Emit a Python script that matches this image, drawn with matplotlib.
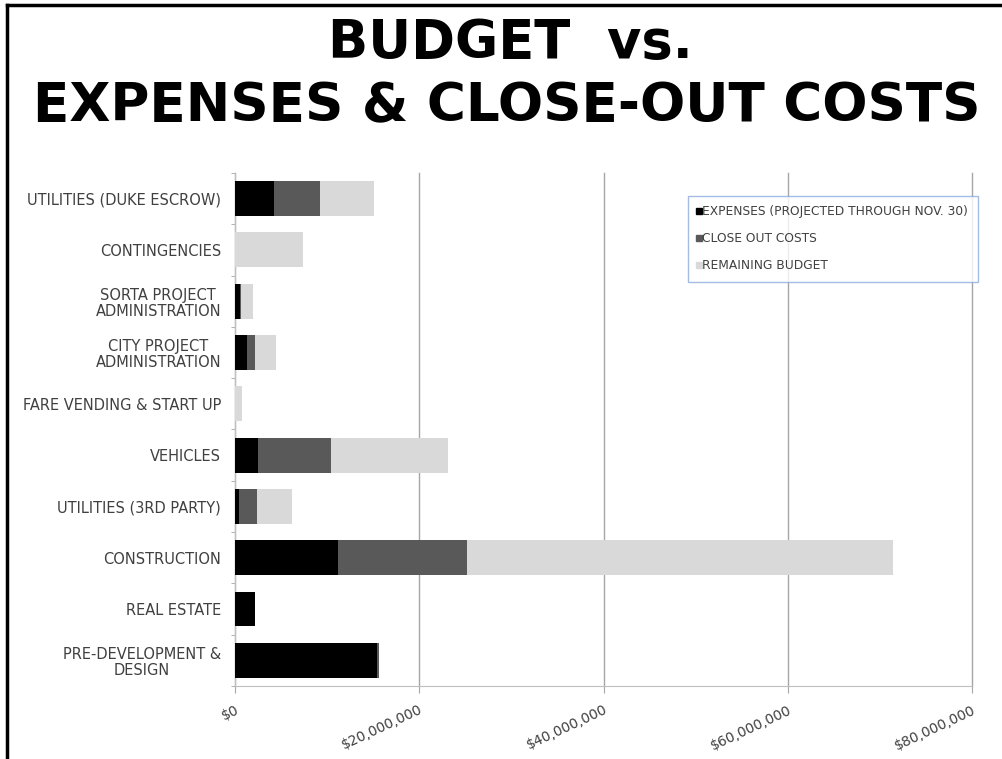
import matplotlib.pyplot as plt
from matplotlib.ticker import FuncFormatter
from matplotlib.lines import Line2D

# voci di spesa (dall'alto verso il basso come nel grafico)
categorie = ["UTILITIES (DUKE ESCROW)", "CONTINGENCIES", "SORTA PROJECT\nADMINISTRATION",
             "CITY PROJECT\nADMINISTRATION", "FARE VENDING & START UP", "VEHICLES",
             "UTILITIES (3RD PARTY)", "CONSTRUCTION", "REAL ESTATE",
             "PRE-DEVELOPMENT &\nDESIGN"]
# valori in dollari
spese = [4.2e6, 0, 0.5e6, 1.3e6, 0, 2.5e6, 0.4e6, 11.2e6, 2.2e6, 15.4e6]
chiusura = [5.0e6, 0, 0.2e6, 0.9e6, 0, 7.9e6, 2.0e6, 14.0e6, 0, 0.2e6]
rimanente = [5.9e6, 7.4e6, 1.3e6, 2.2e6, 0.75e6, 12.7e6, 3.8e6, 46.2e6, 0, 0]
etichette_serie = ["EXPENSES (PROJECTED THROUGH NOV. 30)", "CLOSE OUT COSTS", "REMAINING BUDGET"]
tick_x = [0, 20e6, 40e6, 60e6, 80e6]

colori = ["#000000", "#595959", "#d9d9d9"]
testo = "#404040"
font = "DejaVu Sans"

fig = plt.figure(figsize=(10.03, 7.59), dpi=100)
ax = fig.add_axes([0.2343, 0.0962, 0.7348, 0.6759])

y = list(range(len(categorie)))
sinistra2 = [a for a in spese]
sinistra3 = [a + b for a, b in zip(spese, chiusura)]
ax.barh(y, spese, height=0.68, color=colori[0], zorder=3)
ax.barh(y, chiusura, left=sinistra2, height=0.68, color=colori[1], zorder=3)
ax.barh(y, rimanente, left=sinistra3, height=0.68, color=colori[2], zorder=3)

ax.set_xlim(0, 80e6)
ax.set_ylim(len(categorie) - 0.5, -0.5)
ax.set_xticks(tick_x)
ax.xaxis.set_major_formatter(FuncFormatter(lambda v, p: "${:,.0f}".format(v)))
ax.set_yticks(y)
ax.set_yticklabels(categorie)
ax.set_yticks([i - 0.5 for i in range(len(categorie) + 1)], minor=True)
for lab in ax.get_yticklabels():
    lab.set_multialignment("center")
    lab.set_fontfamily(font)
    lab.set_fontsize(10.5)
    lab.set_color(testo)
    lab.set_linespacing(1.1)
for lab in ax.get_xticklabels():
    lab.set_rotation(25)
    lab.set_ha("right")
    lab.set_va("top")
    lab.set_rotation_mode("anchor")
    lab.set_fontfamily(font)
    lab.set_fontsize(10)
    lab.set_color(testo)
ax.tick_params(axis="y", which="major", length=0, pad=10)
ax.tick_params(axis="y", which="minor", length=3, color="#a6a6a6")
ax.tick_params(axis="x", length=5, color="#a6a6a6", pad=7)

ax.grid(axis="x", color="#a6a6a6", linewidth=1, zorder=0)
for gl in ax.get_xgridlines():
    gl.set_clip_on(False)
for s in ["top", "right"]:
    ax.spines[s].set_visible(False)
ax.spines["left"].set_color("#bfbfbf")
ax.spines["bottom"].set_color("#bfbfbf")

# legenda
handles = [Line2D([], [], marker="s", linestyle="none", markersize=4, color=c) for c in colori]
leg = ax.legend(handles, etichette_serie, loc="upper right", bbox_to_anchor=(1.008, 0.956),
                prop={"family": font, "size": 8.8}, frameon=True, fancybox=False,
                handlelength=0.3, handletextpad=0.1, labelspacing=1.15, borderpad=0.8,
                borderaxespad=0)
leg.get_frame().set_edgecolor("#8eaadb")
leg.get_frame().set_linewidth(1)
for t in leg.get_texts():
    t.set_color(testo)

# titolo
fig.text(0.509, 0.943, "BUDGET  vs.", ha="center", va="center", fontsize=38,
         fontweight="bold", family=font)
fig.text(0.505, 0.860, "EXPENSES & CLOSE-OUT COSTS", ha="center", va="center", fontsize=38.3,
         fontweight="bold", family=font)

# cornice
fig.add_artist(Line2D([0.007, 1.0], [0.9934, 0.9934], color="black", linewidth=2.5))
fig.add_artist(Line2D([0.007, 0.007], [0.0, 0.9934], color="black", linewidth=2.5))

fig.savefig("out.png", dpi=100)
